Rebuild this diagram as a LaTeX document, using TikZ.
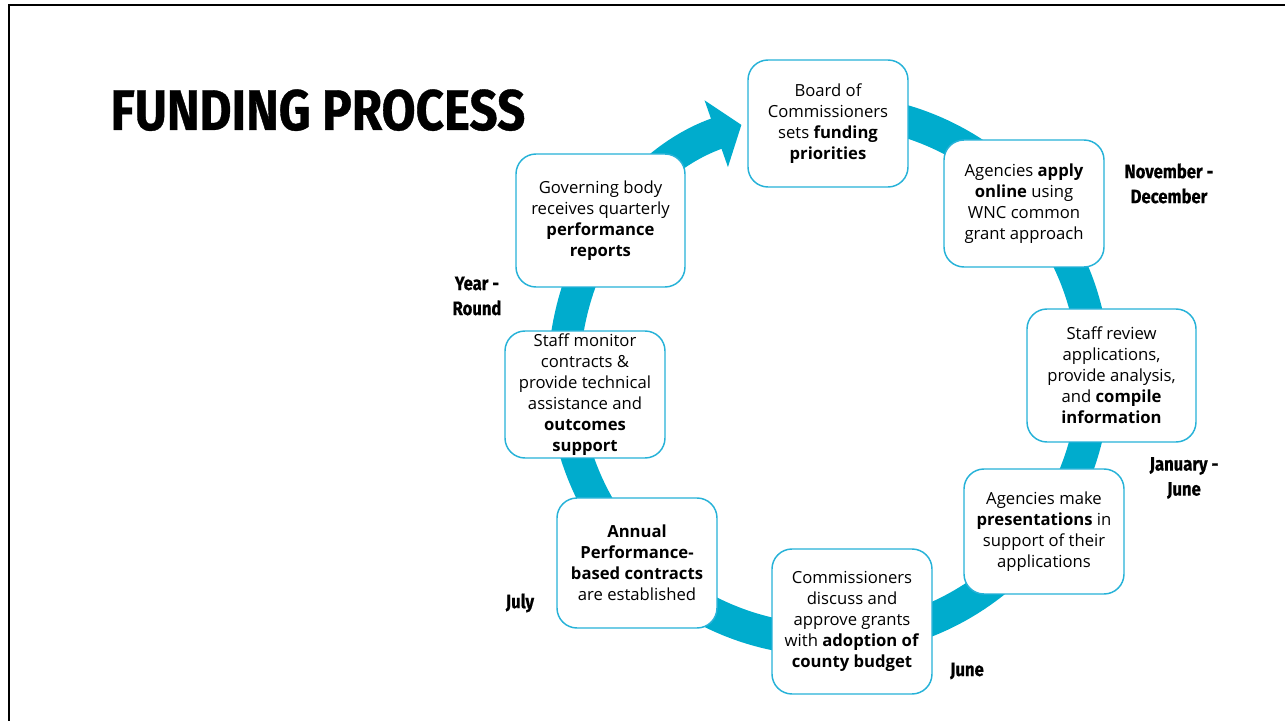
\documentclass[tikz,border=0pt]{standalone}
\usepackage{fontspec}
\setmainfont{Open Sans}
\newfontfamily\condfont[FakeStretch=0.86,FakeBold=0.6]{Fira Sans}
\usetikzlibrary{calc,arrows.meta}
\definecolor{ringblue}{RGB}{0,172,205}
\definecolor{edgeblue}{RGB}{38,178,216}
\tikzset{
  stage/.style={draw=edgeblue,line width=1.1pt,fill=white,rounded corners=15pt,align=center,
    inner sep=0pt,minimum width=120pt,minimum height=95.25pt,font=\fontsize{12.5}{15.75}\selectfont},
  period/.style={align=center,font=\condfont\bfseries\fontsize{14.5}{18.75}\selectfont},
}

\begin{document}
\begin{tikzpicture}[x=0.75pt,y=0.75pt]
      \useasboundingbox (0,0) rectangle (1285,721);
      \draw[line width=2.2pt](9,0)--(9,716)--(1285,716);
      \node[anchor=base west,font=\condfont\bfseries\fontsize{43}{43}\selectfont](title) at (106,591) {FUNDING PROCESS};
      \coordinate(O) at (829,346);
      \draw[ringblue,line width=24pt,-{Triangle[width=52pt,length=20pt]}]($(O)+(90:265)$) arc[start angle=90,end angle=-250.7,radius=265];
      \node[stage](board) at (828,597.5) {Board of\\Commissioners\\sets \textbf{funding}\\\textbf{priorities}};
      \node[stage](apply) at (1024,517.5) {Agencies \textbf{apply}\\\textbf{online} using\\WNC common\\grant approach};
      \node[stage,minimum width=126.75pt,minimum height=99.75pt](review) at (1111.5,345.5) {Staff review\\applications,\\provide analysis,\\and \textbf{compile}\\\textbf{information}};
      \node[stage,minimum height=93.75pt](present) at (1044,189.5) {Agencies make\\\textbf{presentations} in\\support of their\\applications};
      \node[stage,minimum height=108.75pt](budget) at (852,99.5) {Commissioners\\discuss and\\approve grants\\with \textbf{adoption of}\\\textbf{county budget}};
      \node[stage,minimum height=97.5pt](contracts) at (637,158) {\textbf{Annual}\\\textbf{Performance-}\\\textbf{based contracts}\\are established};
      \node[stage](monitor) at (585,326.5) {Staff monitor\\contracts \&\\provide technical\\assistance and\\\textbf{outcomes}\\\textbf{support}};
      \node[stage,minimum width=126.75pt,minimum height=99.75pt](reports) at (600.5,500.5) {Governing body\\receives quarterly\\\textbf{performance}\\\textbf{reports}};
      \node[period](novdec) at (1169,537.5) {November -\\December};
      \node[period](janjun) at (1184,243) {January -\\June};
      \node[period](june) at (967,50) {June};
      \node[period](july) at (520,118) {July};
      \node[period](yearround) at (477,425) {Year -\\Round};
\end{tikzpicture}
\end{document}
